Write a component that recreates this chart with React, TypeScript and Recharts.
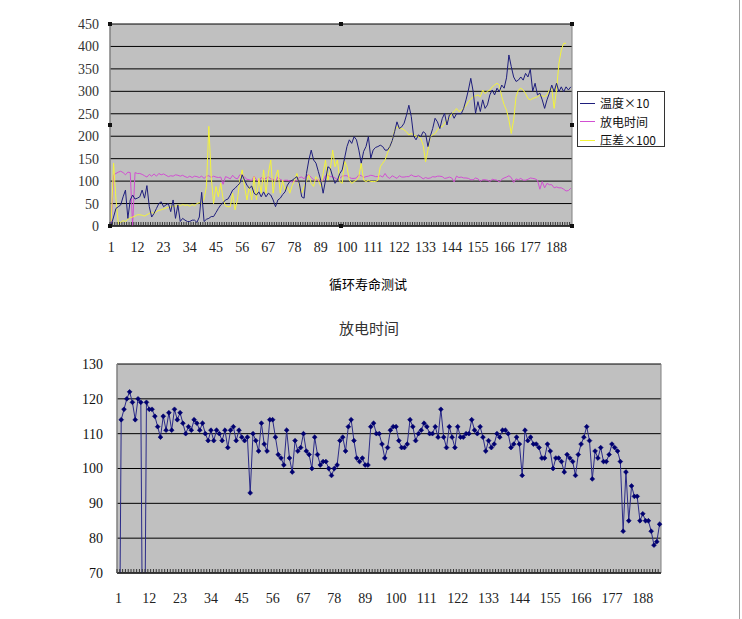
import React from 'react';
import { LineChart, Line, XAxis, YAxis, CartesianGrid } from 'recharts';

// cycle numbers 1..194 (x categories)
const cycles = Array.from({ length: 194 }, (_, i) => String(i + 1));

const tempX10 = [
  2, 20, 39, 43, 47, 65, 80, 17, 58, 69,
  60, 62, 65, 80, 62, 90, 43, 20, 28, 39,
  50, 54, 43, 47, 50, 32, 58, 17, 47, 10,
  17, 13, 10, 10, 13, 13, 8, 20, 75, 10,
  15, 17, 21, 21, 30, 39, 47, 52, 58, 60,
  69, 80, 84, 90, 95, 114, 102, 91, 84, 89,
  73, 69, 76, 65, 76, 65, 73, 69, 58, 43,
  58, 62, 70, 76, 91, 99, 102, 106, 110, 95,
  65, 62, 117, 147, 169, 147, 140, 121, 102, 73,
  102, 132, 128, 110, 95, 102, 117, 125, 151, 177,
  192, 184, 199, 192, 169, 140, 166, 177, 199, 151,
  169, 175, 177, 180, 177, 169, 169, 177, 190, 210,
  232, 217, 221, 229, 247, 269, 244, 200, 192, 203,
  199, 210, 206, 177, 200, 217, 240, 232, 217, 239,
  251, 225, 247, 252, 240, 250, 250, 250, 262, 281,
  303, 329, 300, 251, 277, 255, 281, 262, 270, 292,
  303, 292, 307, 299, 314, 307, 330, 381, 355, 332,
  322, 325, 332, 325, 340, 332, 349, 300, 318, 292,
  296, 281, 262, 281, 296, 314, 299, 318, 299, 310,
  299, 310, 303, 310,
];

const dischargeTime = [
  0, 114, 117, 120, 122, 119, 114, 120, 119, 0,
  119, 117, 117, 115, 112, 109, 115, 111, 116, 111,
  117, 114, 116, 113, 110, 112, 111, 114, 113, 111,
  113, 110, 108, 111, 108, 111, 110, 108, 111, 106,
  111, 112, 108, 111, 109, 108, 109, 93, 110, 108,
  105, 113, 107, 105, 114, 114, 109, 104, 103, 101,
  111, 103, 99, 108, 105, 106, 110, 105, 104, 100,
  109, 104, 101, 102, 102, 100, 98, 100, 101, 108,
  109, 105, 112, 114, 108, 103, 102, 103, 101, 101,
  112, 113, 110, 110, 107, 103, 106, 111, 112, 112,
  108, 106, 106, 107, 114, 112, 108, 110, 111, 113,
  112, 110, 110, 112, 109, 117, 109, 106, 112, 109,
  106, 112, 109, 109, 110, 110, 114, 111, 110, 112,
  109, 105, 108, 106, 107, 110, 109, 111, 111, 110,
  106, 107, 109, 107, 98, 111, 108, 109, 107, 107,
  106, 103, 103, 107, 105, 100, 103, 103, 102, 99,
  104, 103, 102, 98, 104, 107, 109, 112, 108, 97,
  105, 103, 106, 102, 102, 104, 107, 106, 105, 102,
  82, 99, 85, 95, 92, 92, 85, 87, 85, 85,
  82, 78, 79, 84,
];

const voltDiffX100 = [
  10, 140, 60, 5, 8, 12, 10, 15, 18, 20,
  22, 25, 25, 24, 22, 25, 28, 30, 28, 32,
  35, 36, 38, 40, 42, 43, 45, 44, 47, 45,
  48, 46, 47, 44, 48, 45, 50, 52, 50, 60,
  88, 222, 110, 50, 88, 65, 95, 60, 45, 43,
  43, 73, 36, 58, 102, 125, 88, 58, 88, 58,
  110, 58, 106, 73, 125, 73, 117, 147, 73, 110,
  125, 73, 102, 80, 88, 73, 90, 102, 117, 88,
  73, 88, 100, 114, 95, 88, 110, 102, 88, 117,
  147, 102, 125, 169, 132, 147, 99, 95, 145, 132,
  102, 95, 99, 102, 110, 140, 102, 99, 102, 99,
  99, 99, 102, 132, 140, 147, 162, 177, 190, 214,
  221, 217, 217, 214, 210, 203, 206, 203, 200, 199,
  195, 180, 143, 169, 199, 203, 206, 214, 221, 221,
  229, 236, 240, 250, 255, 262, 255, 258, 262, 268,
  277, 282, 288, 290, 292, 288, 303, 295, 300, 303,
  310, 314, 318, 314, 288, 270, 258, 236, 206, 236,
  288, 303, 307, 303, 295, 284, 281, 284, 286, 288,
  292, 290, 288, 292, 303, 307, 262, 303, 362, 392,
  407, 407, null, null,
];

const topTicks = [0, 50, 100, 150, 200, 250, 300, 350, 400, 450];
const bottomTicks = [70, 80, 90, 100, 110, 120, 130];

const seriesNames = ['温度×10', '放电时间', '压差×100'];
const seriesColors = ['#1e1e7c', '#d24fd2', '#f4f43a'];

const rows = cycles.map((c, i) => ({
  cycle: c,
  temp: tempX10[i],
  time: dischargeTime[i],
  diff: voltDiffX100[i],
}));

const numFont = '"Liberation Serif", "DejaVu Serif", serif';
const cjkFont = '"Noto Sans CJK SC", sans-serif';

// category tick: small mark on the axis for every cycle, label every 11th
const CycleTick = (props: any) => {
  const { x, y, payload, gap, step } = props;
  const n = Number(payload.value);
  const axisY = y - gap;
  return (
    <g>
      <line x1={x - step / 2} x2={x - step / 2} y1={axisY} y2={axisY - 4} stroke="#333" strokeWidth={1} />
      {(n - 1) % 11 === 0 && (
        <text x={x} y={y} dy="0.71em" textAnchor="middle" fill="#222" fontSize={14} fontFamily={numFont}>
          {payload.value}
        </text>
      )}
    </g>
  );
};

const Diamond = (props: any) => {
  const { cx, cy, value, index } = props;
  if (value == null || value < 70 || cx == null) return <g key={index} />;
  const s = 2.4;
  return (
    <path
      key={index}
      d={`M${cx},${cy - s}L${cx + s},${cy}L${cx},${cy + s}L${cx - s},${cy}Z`}
      fill="#000070"
      stroke="#000070"
      strokeWidth={0.6}
    />
  );
};

const handles = [
  [110, 24], [341, 24], [572, 24],
  [110, 125], [572, 125],
  [110, 226], [341, 226], [572, 226],
];

export default function App() {
  return (
    <div style={{ position: 'absolute', left: 0, top: 0, width: 742, height: 619, background: '#fff', overflow: 'hidden' }}>
      {/* top chart */}
      <div style={{ position: 'absolute', left: 0, top: 0 }}>
        <LineChart width={742} height={300} data={rows} margin={{ top: 24, right: 170, bottom: 44, left: 70 }}>
          <CartesianGrid vertical={false} stroke="#000" fill="#c0c0c0" />
          <CartesianGrid horizontal={false} verticalPoints={[110, 572]} stroke="#808080" />
          <XAxis
            dataKey="cycle"
            interval={0}
            height={30}
            tickLine={false}
            tickSize={0}
            tickMargin={16}
            axisLine={{ stroke: '#000' }}
            padding={{ left: 1.19, right: 1.19 }}
            tick={(p: any) => <CycleTick {...p} gap={16} step={2.38} />}
          />
          <YAxis
            domain={[0, 450]}
            ticks={topTicks}
            interval={0}
            width={40}
            tickLine={false}
            tickSize={0}
            tickMargin={11}
            axisLine={{ stroke: '#808080' }}
            tick={{ fill: '#333', fontSize: 14, fontFamily: numFont }}
          />
          <Line type="linear" dataKey="time" name={seriesNames[1]} stroke={seriesColors[1]} strokeWidth={1} dot={false} activeDot={false} isAnimationActive={false} />
          <Line type="linear" dataKey="diff" name={seriesNames[2]} stroke={seriesColors[2]} strokeWidth={1} dot={false} activeDot={false} isAnimationActive={false} />
          <Line type="linear" dataKey="temp" name={seriesNames[0]} stroke={seriesColors[0]} strokeWidth={1} dot={false} activeDot={false} isAnimationActive={false} />
        </LineChart>
      </div>

      {handles.map(([hx, hy], i) => (
        <div key={i} style={{ position: 'absolute', left: hx - 2, top: hy - 2, width: 4, height: 4, background: '#111' }} />
      ))}

      {/* legend */}
      <div
        style={{
          position: 'absolute', left: 577, top: 91, width: 88, height: 56,
          background: '#fff', border: '1px solid #333', boxSizing: 'border-box',
          fontFamily: cjkFont, fontSize: 12, color: '#111',
        }}
      >
        {seriesNames.map((name, i) => (
          <div key={name} style={{ position: 'absolute', left: 2, top: 2 + i * 18.5, height: 18, display: 'flex', alignItems: 'center' }}>
            <span style={{ display: 'inline-block', width: 15, height: 1, background: seriesColors[i], marginRight: 5 }} />
            <span style={{ whiteSpace: 'nowrap', lineHeight: '18px' }}>{name}</span>
          </div>
        ))}
      </div>

      <div style={{ position: 'absolute', left: 318, top: 274, width: 100, textAlign: 'center', fontFamily: cjkFont, fontSize: 13, color: '#000' }}>
        循环寿命测试
      </div>

      <div style={{ position: 'absolute', left: 318, top: 317, width: 102, textAlign: 'center', fontFamily: cjkFont, fontSize: 15, color: '#333' }}>
        放电时间
      </div>

      {/* bottom chart */}
      <div style={{ position: 'absolute', left: 0, top: 330 }}>
        <LineChart width={742} height={289} data={rows} margin={{ top: 34, right: 81, bottom: 16, left: 77 }}>
          <CartesianGrid vertical={false} stroke="#000" fill="#c0c0c0" />
          <CartesianGrid horizontal={false} verticalPoints={[117, 661]} stroke="#808080" />
          <XAxis
            dataKey="cycle"
            interval={0}
            height={30}
            tickLine={false}
            tickSize={0}
            tickMargin={20}
            axisLine={{ stroke: '#000' }}
            padding={{ left: 1.4, right: 1.4 }}
            tick={(p: any) => <CycleTick {...p} gap={20} step={2.8} />}
          />
          <YAxis
            domain={[70, 130]}
            ticks={bottomTicks}
            interval={0}
            allowDataOverflow
            width={40}
            tickLine={false}
            tickSize={0}
            tickMargin={14}
            axisLine={{ stroke: '#808080' }}
            tick={{ fill: '#111', fontSize: 14, fontFamily: numFont }}
          />
          <Line
            type="linear"
            dataKey="time"
            name={seriesNames[1]}
            stroke="#2a2a88"
            strokeWidth={1}
            dot={(p: any) => <Diamond key={p.index} {...p} />}
            activeDot={false}
            isAnimationActive={false}
          />
        </LineChart>
      </div>

      <div style={{ position: 'absolute', left: 739, top: 0, width: 1, height: 619, background: '#a0a0a0' }} />
    </div>
  );
}
